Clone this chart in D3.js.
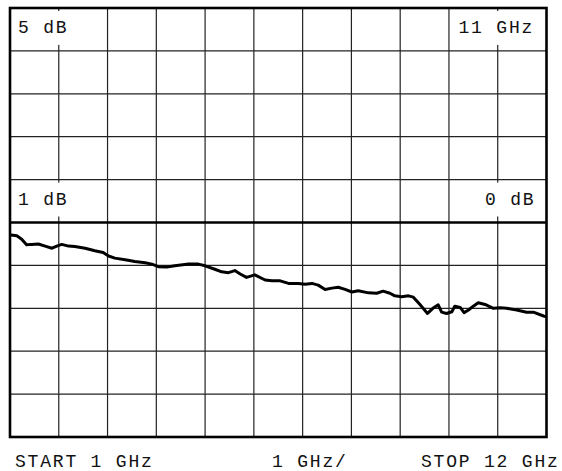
<!DOCTYPE html>
<html>
<head>
<meta charset="utf-8">
<script src="https://cdn.jsdelivr.net/npm/d3@7"></script>
<style>
  body { margin: 0; background: #fff; }
  text { font-family: "Courier New", "Liberation Mono", monospace; font-size: 18px; letter-spacing: 1.8px; fill: #111; }
</style>
</head>
<body>
<div id="chart"></div>
<script>
// trace: frequency (GHz) and level (dB)
var freqGHz = [1.00, 1.02, 1.14, 1.24, 1.34, 1.44, 1.58, 1.72, 1.86, 1.96, 2.06, 2.20, 2.33, 2.54, 2.74, 2.91,
  3.02, 3.15, 3.36, 3.56, 3.77, 3.91, 4.04, 4.21, 4.38, 4.66, 4.86, 5.00, 5.20, 5.34, 5.48, 5.61,
  5.72, 5.85, 6.02, 6.23, 6.37, 6.54, 6.71, 6.91, 7.05, 7.19, 7.32, 7.46, 7.60, 7.73, 7.87, 8.01,
  8.14, 8.35, 8.52, 8.65, 8.79, 8.89, 9.03, 9.17, 9.27, 9.41, 9.56, 9.67, 9.78, 9.85, 9.95, 10.06,
  10.12, 10.23, 10.31, 10.40, 10.50, 10.60, 10.74, 10.91, 11.05, 11.18, 11.39, 11.59, 11.73, 11.94, 12.00];
var levelDb = [-0.29, -0.29, -0.31, -0.39, -0.52, -0.51, -0.50, -0.55, -0.60, -0.55, -0.51, -0.55, -0.56, -0.60, -0.66, -0.70,
  -0.78, -0.83, -0.87, -0.91, -0.94, -0.97, -1.03, -1.04, -1.01, -0.97, -0.97, -1.01, -1.09, -1.15, -1.17, -1.12,
  -1.20, -1.28, -1.22, -1.34, -1.36, -1.36, -1.42, -1.42, -1.44, -1.42, -1.46, -1.56, -1.53, -1.51, -1.56, -1.62,
  -1.59, -1.64, -1.65, -1.60, -1.65, -1.71, -1.73, -1.71, -1.74, -1.92, -2.12, -2.00, -1.92, -2.09, -2.12, -2.08,
  -1.95, -1.98, -2.10, -2.04, -1.95, -1.87, -1.91, -2.00, -1.99, -2.00, -2.04, -2.09, -2.09, -2.18, -2.20];

// grid divisions
var xTicks = d3.range(1, 13);      // 1..12 GHz
var yTicks = d3.range(-5, 6);      // -5..5 dB
var refLevel = 0;

// screen annotations
var topLeft = "5 dB", topRight = "11 GHz";
var refLeft = "1 dB", refRight = "0 dB";
var startLabel = "START 1 GHz", spanLabel = "1 GHz/", stopLabel = "STOP 12 GHz";

var width = 562, height = 471;
var svg = d3.select("#chart").append("svg")
  .attr("width", width)
  .attr("height", height);

var x = d3.scaleLinear().domain([1, 12]).range([10, 546.5]);
var y = d3.scaleLinear().domain([-5, 5]).range([437, 8]);
var rowH = y(4) - y(5);

// inner grid
svg.append("g").selectAll("line.v")
  .data(xTicks.slice(1, -1))
  .enter().append("line")
  .attr("x1", function(d) { return x(d); }).attr("x2", function(d) { return x(d); })
  .attr("y1", y(5)).attr("y2", y(-5))
  .attr("stroke", "#222").attr("stroke-width", 1.2);

svg.append("g").selectAll("line.h")
  .data(yTicks.slice(1, -1).filter(function(d) { return d !== refLevel; }))
  .enter().append("line")
  .attr("x1", x(1)).attr("x2", x(12))
  .attr("y1", function(d) { return y(d); }).attr("y2", function(d) { return y(d); })
  .attr("stroke", "#222").attr("stroke-width", 1.2);

// labels on the screen, with white boxes behind them
function screenLabel(txt, xpos, rowTop) {
  var g = svg.append("g");
  var r = g.append("rect").attr("fill", "#fff");
  var t = g.append("text").attr("x", xpos).attr("y", rowTop + 25).text(txt);
  var b = t.node().getBBox();
  r.attr("x", b.x - 4).attr("width", b.width + 6)
   .attr("y", rowTop + 3).attr("height", rowH - 9);
}
screenLabel(topLeft, 18, y(5));
screenLabel(topRight, 458.5, y(5));
screenLabel(refLeft, 18, y(1));
screenLabel(refRight, 485, y(1));

// reference line and frame
svg.append("line")
  .attr("x1", x(1)).attr("x2", x(12))
  .attr("y1", y(refLevel)).attr("y2", y(refLevel))
  .attr("stroke", "#000").attr("stroke-width", 2.6);

svg.append("rect")
  .attr("x", x(1)).attr("y", y(5))
  .attr("width", x(12) - x(1)).attr("height", y(-5) - y(5))
  .attr("fill", "none").attr("stroke", "#000").attr("stroke-width", 2.6);

// trace
var line = d3.line()
  .x(function(d, i) { return x(freqGHz[i]); })
  .y(function(d) { return y(d); });

svg.append("path")
  .datum(levelDb)
  .attr("d", line)
  .attr("fill", "none")
  .attr("stroke", "#000")
  .attr("stroke-width", 3)
  .attr("stroke-linejoin", "round");

// bottom annotations
svg.append("text").attr("x", 15).attr("y", 467).text(startLabel);
svg.append("text").attr("x", 272).attr("y", 467).text(spanLabel);
svg.append("text").attr("x", 421).attr("y", 467).text(stopLabel);
</script>
</body>
</html>
